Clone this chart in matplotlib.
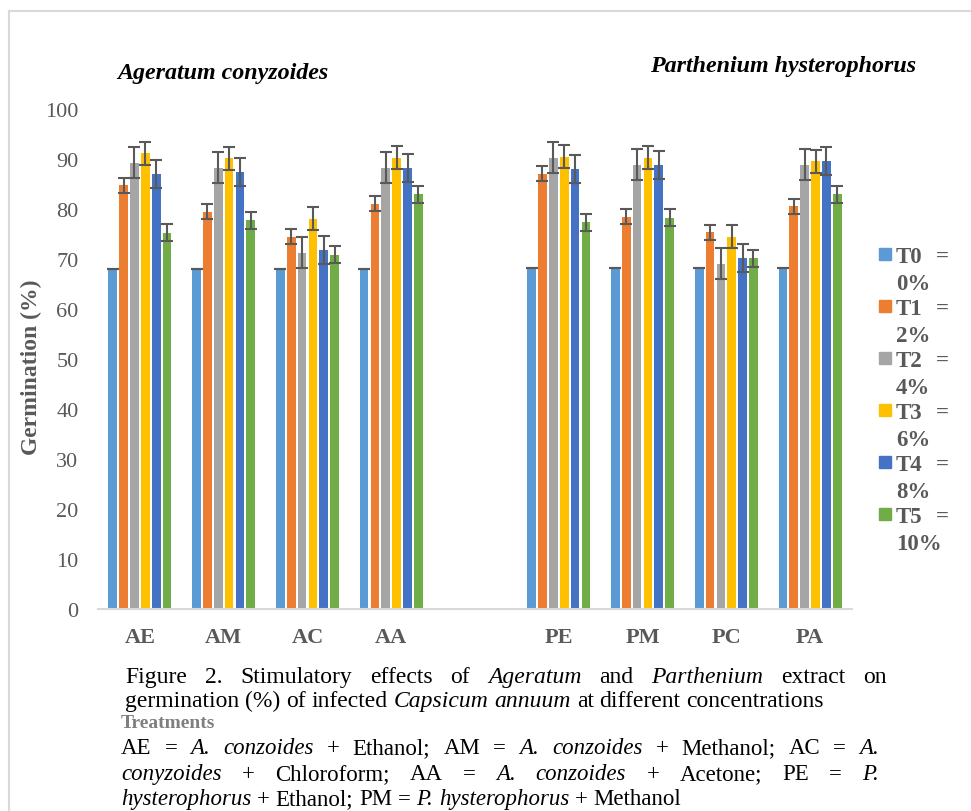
import matplotlib
matplotlib.use('Agg')
import matplotlib.pyplot as plt
import numpy as np
from matplotlib.patches import Rectangle
from matplotlib.lines import Line2D

plt.rcParams['font.family'] = ['Liberation Serif', 'DejaVu Serif']

# ---------------- data ----------------
categories = ['AE', 'AM', 'AC', 'AA', '', 'PE', 'PM', 'PC', 'PA']
treatments = ['T0', 'T1', 'T2', 'T3', 'T4', 'T5']
concentrations = ['0%', '2%', '4%', '6%', '8%', '10%']
colors = ['#5B9BD5', '#ED7D31', '#A5A5A5', '#FFC000', '#4472C4', '#70AD47']

T0 = [68.0, 68.0, 68.0, 68.0, 68.3, 68.3, 68.3, 68.3]
T1 = [84.8, 79.5, 74.5, 81.1, 87.1, 78.5, 75.4, 80.6]
T2 = [89.3, 88.3, 71.3, 88.3, 90.3, 88.9, 69.1, 88.9]
T3 = [91.2, 90.2, 78.1, 90.3, 90.5, 90.3, 74.5, 89.6]
T4 = [87.0, 87.5, 71.9, 88.3, 88.1, 88.8, 70.2, 89.7]
T5 = [75.3, 77.8, 70.9, 83.0, 77.4, 78.3, 70.2, 83.0]
series = [T0, T1, T2, T3, T4, T5]

E0 = [0.0] * 8
E1 = [1.5] * 8
E2 = [3.1] * 8
E3 = [2.3] * 8
E4 = [2.8] * 8
E5 = [1.7] * 8
errors = [E0, E1, E2, E3, E4, E5]

yticks = [0, 10, 20, 30, 40, 50, 60, 70, 80, 90, 100]

# ---------------- figure ----------------
W, H = 971, 812
fig = plt.figure(figsize=(W / 100, H / 100), dpi=100)


def fx(px):
    return px / W


def fy(py):
    return 1 - py / H


# outer frame (light gray)
fig.add_artist(Line2D([fx(9), fx(9)], [fy(12), 0], color='#d9d9d9', lw=1.5))
fig.add_artist(Line2D([fx(9), 1], [fy(12), fy(12)], color='#d9d9d9', lw=1.5))

ax = fig.add_axes([fx(98), 1 - 610 / H, 754 / W, 500 / H])

xpos = [i for i, c in enumerate(categories) if c]
step = 0.1296
bw = 0.104
for k, (vals, errs) in enumerate(zip(series, errors)):
    x = np.array(xpos) + (k - 2.5) * step
    ax.bar(x, vals, width=bw, color=colors[k], zorder=2)
    ax.errorbar(x, vals, yerr=errs, fmt='none', ecolor='#595959',
                elinewidth=1.5, capsize=4.2, capthick=1.5, zorder=3)

ax.set_xlim(-0.5, len(categories) - 0.5)
ax.set_ylim(0, 100)
ax.set_yticks(yticks)
ax.set_yticklabels([str(t) for t in yticks], fontsize=16, color='#595959')
ax.set_xticks(range(len(categories)))
ax.set_xticklabels(categories, fontsize=16, fontweight='bold', color='#595959')
ax.tick_params(axis='both', length=0)
ax.tick_params(axis='y', pad=14)
ax.tick_params(axis='x', pad=13)
for s in ['top', 'right', 'left']:
    ax.spines[s].set_visible(False)
ax.spines['bottom'].set_color('#d9d9d9')
ax.spines['bottom'].set_linewidth(1.5)

ax.set_ylabel('Germination (%)', fontsize=17, fontweight='bold', color='#595959')
ax.yaxis.set_label_coords(-0.074, 0.486)

# group titles
fig.text(fx(117), fy(79), 'Ageratum conyzoides', fontsize=17.3, fontweight='bold',
         style='italic', color='black', va='baseline', ha='left')
fig.text(fx(650), fy(72), 'Parthenium hysterophorus', fontsize=17.3, fontweight='bold',
         style='italic', color='black', va='baseline', ha='left')

# legend (manual, two-line entries)
for i, (t, c) in enumerate(zip(treatments, concentrations)):
    y0 = 249 + 52 * i
    fig.add_artist(Rectangle((fx(879), fy(y0 + 12)), 12 / W, 12 / H,
                             transform=fig.transFigure, color=colors[i]))
    fig.text(fx(896), fy(263 + 52 * i), t, fontsize=16.5, fontweight='bold',
             color='#595959', va='baseline', ha='left')
    fig.text(fx(949), fy(263 + 52 * i), '=', fontsize=16.5, fontweight='bold',
             color='#595959', va='baseline', ha='right')
    fig.text(fx(896), fy(290 + 52 * i), c, fontsize=16.5, fontweight='bold',
             color='#595959', va='baseline', ha='left')

# ---------------- caption (justified lines) ----------------
renderer = fig.canvas.get_renderer()


def place_line(segs, x0, base, size, x1=None, color='black'):
    texts = []
    for word, st in segs:
        t = fig.text(0, fy(base), word, fontsize=size, color=color,
                     style='italic' if st == 'i' else 'normal',
                     va='baseline', ha='left')
        texts.append(t)
    widths = [t.get_window_extent(renderer).width for t in texts]
    n = len(texts)
    if x1 is None or n < 2:
        gap = 0.25 * size * 100 / 72
    else:
        gap = (x1 - x0 - sum(widths)) / (n - 1)
    x = x0
    for t, w in zip(texts, widths):
        t.set_x(fx(x))
        x += w + gap


def segs(s):
    out = []
    for w in s.split(' '):
        if w.startswith('_'):
            out.append((w[1:], 'i'))
        else:
            out.append((w, 'n'))
    return out


place_line(segs('Figure 2. Stimulatory effects of _Ageratum and _Parthenium extract on'),
           125, 683, 17, x1=887)
place_line(segs('germination (%) of infected _Capsicum _annuum at different concentrations'),
           125, 707, 17)
fig.text(fx(121), fy(728), 'Treatments', fontsize=14, fontweight='bold',
         color='#7f7f7f', va='baseline', ha='left')
place_line(segs('AE = _A. _conzoides + Ethanol; AM = _A. _conzoides + Methanol; AC = _A.'),
           121, 754, 16.5, x1=879)
place_line(segs('_conyzoides + Chloroform; AA = _A. _conzoides + Acetone; PE = _P.'),
           121, 780, 16.5, x1=879)
place_line(segs('_hysterophorus + Ethanol; PM = _P. _hysterophorus + Methanol'),
           121, 805, 16.5)

fig.savefig('out.png', dpi=100)
